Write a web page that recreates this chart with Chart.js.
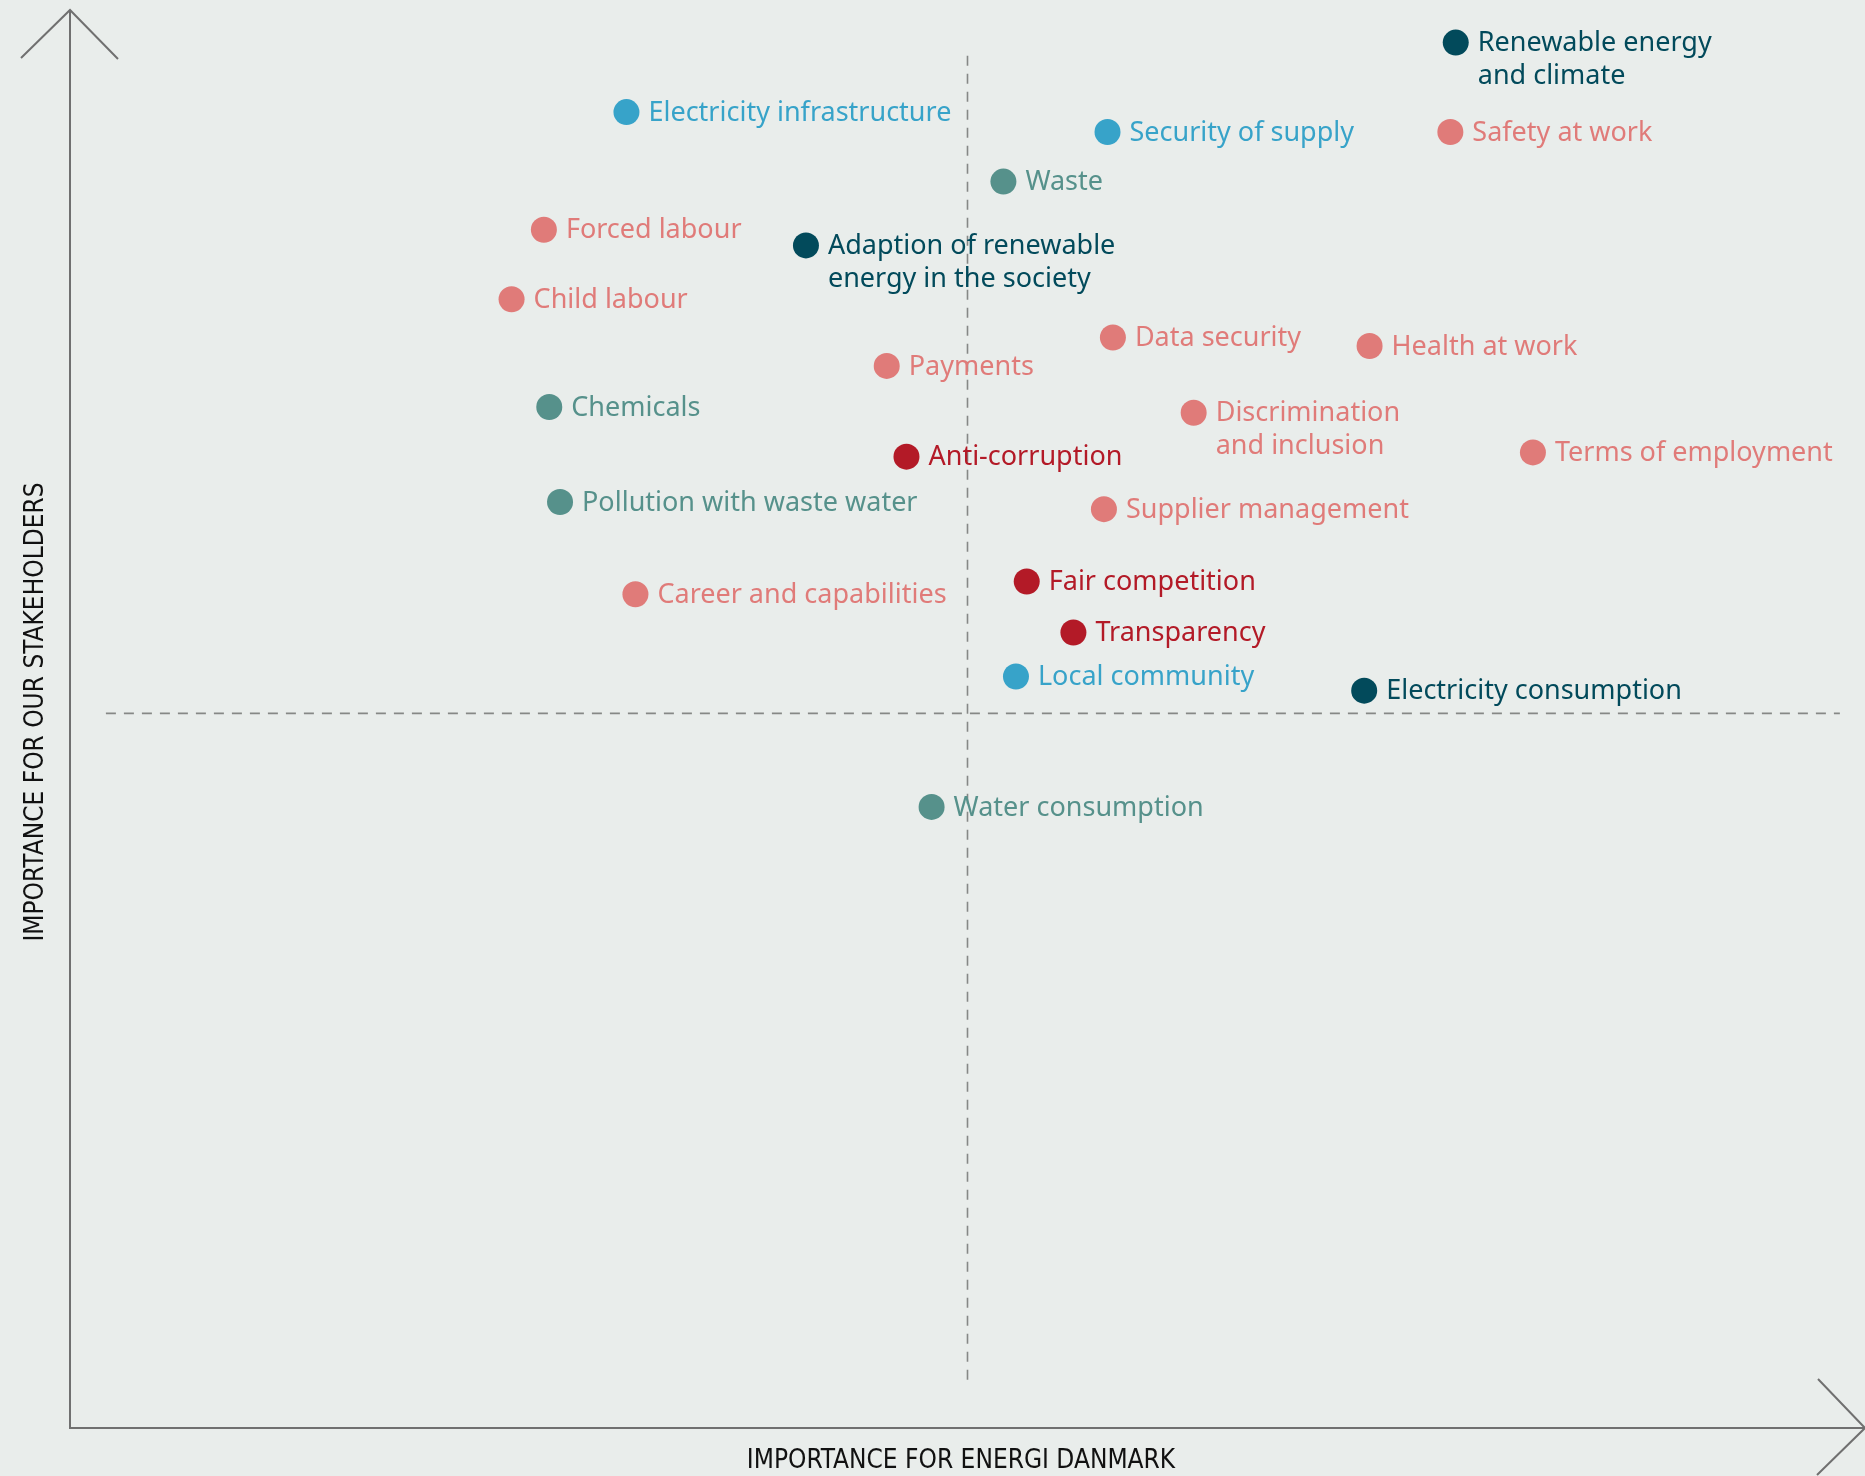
<!DOCTYPE html>
<html>
<head>
<meta charset="utf-8">
<script src="https://cdn.jsdelivr.net/npm/chart.js@4/dist/chart.umd.min.js"></script>
<style>
  html, body { margin: 0; padding: 0; background: #e9edeb; overflow: hidden; }
  canvas { display: block; }
</style>
</head>
<body>
<canvas id="c" width="1865" height="1476" style="width:1865px;height:1476px"></canvas>
<script>
// ---- Data (importance scores read from the matrix, 0-10 scale) ----
const topics = [
  "Renewable energy\nand climate",
  "Electricity infrastructure",
  "Security of supply",
  "Safety at work",
  "Waste",
  "Forced labour",
  "Adaption of renewable\nenergy in the society",
  "Child labour",
  "Data security",
  "Health at work",
  "Payments",
  "Chemicals",
  "Discrimination\nand inclusion",
  "Anti-corruption",
  "Terms of employment",
  "Pollution with waste water",
  "Supplier management",
  "Career and capabilities",
  "Fair competition",
  "Transparency",
  "Local community",
  "Electricity consumption",
  "Water consumption"
];
// importance for Energi Danmark (x)
const importanceCompany = [7.72, 3.10, 5.78, 7.69, 5.20, 2.64, 4.10, 2.46, 5.81, 7.24, 4.55, 2.67, 6.26, 4.66, 8.15, 2.73, 5.76, 3.15, 5.33, 5.59, 5.27, 7.21, 4.80];
// importance for our stakeholders (y)
const importanceStakeholders = [9.77, 9.28, 9.14, 9.14, 8.79, 8.45, 8.34, 7.96, 7.69, 7.63, 7.49, 7.20, 7.16, 6.85, 6.88, 6.53, 6.48, 5.88, 5.97, 5.61, 5.30, 5.20, 4.38];
// topic group for each point
const topicGroup = ["climate", "infrastructure", "infrastructure", "social", "environment", "social", "climate", "social", "social", "social", "social", "environment", "social", "governance", "social", "environment", "social", "social", "governance", "governance", "infrastructure", "climate", "environment"];
const groups = ["climate", "infrastructure", "social", "environment", "governance"];
const groupColors = {
  climate: "#024a5b",
  infrastructure: "#37a3c9",
  social: "#e07b79",
  environment: "#56918b",
  governance: "#b31a27"
};
const axisTitleX = "IMPORTANCE FOR ENERGI DANMARK";
const axisTitleY = "IMPORTANCE FOR OUR STAKEHOLDERS";
// quadrant divider lines (dashed)
const midX = 5.0;
const midY = 5.04;
const vDividerRange = [0.34, 9.73];
const hDividerRange = [0.2, 9.86];

const datasets = groups.map(g => ({
  label: g,
  type: "scatter",
  data: topics.map((t, i) => ({ x: importanceCompany[i], y: importanceStakeholders[i], name: t, g: topicGroup[i] }))
              .filter(p => p.g === g),
  backgroundColor: groupColors[g],
  borderWidth: 0,
  pointRadius: 13,
  pointHoverRadius: 13
}));
datasets.unshift(
  { type: "line", label: "vdiv", data: [{x: midX, y: vDividerRange[0]}, {x: midX, y: vDividerRange[1]}],
    borderColor: "#868886", borderWidth: 1.6, borderDash: [10, 8], pointRadius: 0, fill: false },
  { type: "line", label: "hdiv", data: [{x: hDividerRange[0], y: midY}, {x: hDividerRange[1], y: midY}],
    borderColor: "#868886", borderWidth: 1.6, borderDash: [10, 8], pointRadius: 0, fill: false }
);

const decor = {
  id: "decor",
  beforeDraw(chart) {
    const ctx = chart.ctx;
    ctx.save();
    ctx.fillStyle = "#e9edeb";
    ctx.fillRect(0, 0, chart.width, chart.height);
    ctx.restore();
  },
  afterDraw(chart) {
    const ctx = chart.ctx;
    const a = chart.chartArea;
    ctx.save();
    ctx.strokeStyle = "#707070";
    ctx.lineWidth = 2;
    ctx.lineCap = "butt";
    // axes
    ctx.beginPath();
    ctx.moveTo(a.left, a.top);
    ctx.lineTo(a.left, a.bottom);
    ctx.lineTo(a.right, a.bottom);
    ctx.stroke();
    // arrow heads
    ctx.beginPath();
    ctx.moveTo(a.left - 49, a.top + 48);
    ctx.lineTo(a.left, a.top);
    ctx.lineTo(a.left + 48, a.top + 49);
    ctx.moveTo(a.right - 47, a.bottom - 49);
    ctx.lineTo(a.right, a.bottom);
    ctx.lineTo(a.right - 48, a.bottom + 47);
    ctx.stroke();
    // axis titles
    ctx.fillStyle = "#111111";
    ctx.font = "26px 'Liberation Sans Narrow', 'DejaVu Sans Condensed', sans-serif";
    ctx.textAlign = "center";
    ctx.textBaseline = "middle";
    ctx.fillText(axisTitleX, 961, 1461);
    ctx.translate(36, 712);
    ctx.rotate(-Math.PI / 2);
    ctx.fillText(axisTitleY, 0, 0);
    ctx.restore();

    // point labels
    ctx.save();
    ctx.font = "27px 'Noto Sans', sans-serif";
    ctx.textAlign = "left";
    ctx.textBaseline = "middle";
    chart.data.datasets.forEach((ds, di) => {
      if (ds.type !== "scatter") return;
      const meta = chart.getDatasetMeta(di);
      meta.data.forEach((el, i) => {
        const p = ds.data[i];
        ctx.fillStyle = ds.backgroundColor;
        p.name.split("\n").forEach((line, li) => {
          ctx.fillText(line, el.x + 22, el.y + 1 + li * 33);
        });
      });
    });
    ctx.restore();
  }
};

new Chart(document.getElementById("c"), {
  type: "scatter",
  data: { datasets },
  options: {
    responsive: false,
    maintainAspectRatio: false,
    devicePixelRatio: 1,
    animation: false,
    layout: { autoPadding: false, padding: { left: 70, top: 10, right: 0, bottom: 48 } },
    plugins: { legend: { display: false }, tooltip: { enabled: false } },
    scales: {
      x: { type: "linear", min: 0, max: 10, display: false },
      y: { type: "linear", min: 0, max: 10, display: false }
    }
  },
  plugins: [decor]
});
</script>
</body>
</html>
